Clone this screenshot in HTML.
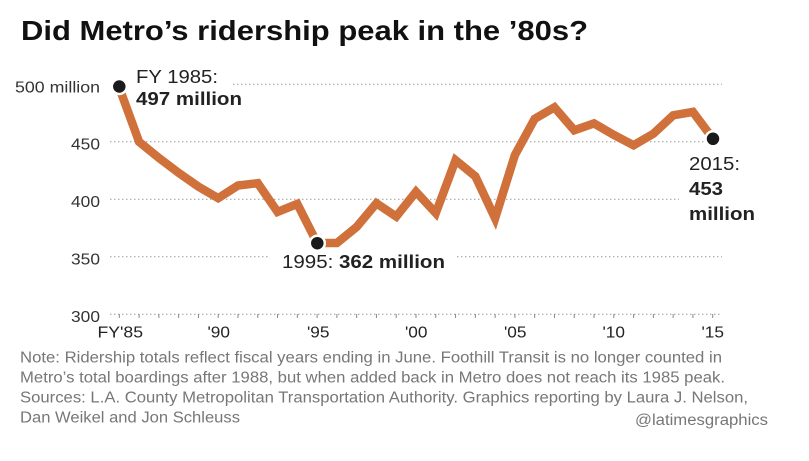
<!DOCTYPE html>
<html>
<head>
<meta charset="utf-8">
<style>
html,body{margin:0;padding:0;background:#fff;}
svg{display:block;}
text{font-family:"Liberation Sans",Arial,sans-serif;}
</style>
</head>
<body>
<svg width="809" height="461" viewBox="0 0 809 461" xmlns="http://www.w3.org/2000/svg">
<rect width="809" height="461" fill="#fff"/>
<!-- Title -->
<text x="21" y="40" font-size="27.5" font-weight="bold" fill="#111" textLength="567" lengthAdjust="spacingAndGlyphs">Did Metro’s ridership peak in the ’80s?</text>

<!-- Gridlines -->
<g stroke="#9a9a9a" stroke-width="1" stroke-dasharray="1.5 2.5" fill="none">
<line x1="233" y1="84.3" x2="722" y2="84.3"/>
<line x1="110" y1="141.8" x2="712" y2="141.8"/>
<line x1="110" y1="199.3" x2="679" y2="199.3"/>
<line x1="110" y1="256.8" x2="270" y2="256.8"/>
<line x1="457" y1="256.8" x2="722" y2="256.8"/>
<line x1="110" y1="314.3" x2="722" y2="314.3"/>
</g>
<!-- Ticks -->
<g stroke="#888" stroke-width="1">
<line x1="119.3" y1="314" x2="119.3" y2="318"/>
<line x1="139.08" y1="314" x2="139.08" y2="318"/>
<line x1="158.86" y1="314" x2="158.86" y2="318"/>
<line x1="178.64" y1="314" x2="178.64" y2="318"/>
<line x1="198.42" y1="314" x2="198.42" y2="318"/>
<line x1="218.2" y1="314" x2="218.2" y2="318"/>
<line x1="237.98" y1="314" x2="237.98" y2="318"/>
<line x1="257.76" y1="314" x2="257.76" y2="318"/>
<line x1="277.54" y1="314" x2="277.54" y2="318"/>
<line x1="297.32" y1="314" x2="297.32" y2="318"/>
<line x1="317.1" y1="314" x2="317.1" y2="318"/>
<line x1="336.88" y1="314" x2="336.88" y2="318"/>
<line x1="356.66" y1="314" x2="356.66" y2="318"/>
<line x1="376.44" y1="314" x2="376.44" y2="318"/>
<line x1="396.22" y1="314" x2="396.22" y2="318"/>
<line x1="416.0" y1="314" x2="416.0" y2="318"/>
<line x1="435.78" y1="314" x2="435.78" y2="318"/>
<line x1="455.56" y1="314" x2="455.56" y2="318"/>
<line x1="475.34" y1="314" x2="475.34" y2="318"/>
<line x1="495.12" y1="314" x2="495.12" y2="318"/>
<line x1="514.9" y1="314" x2="514.9" y2="318"/>
<line x1="534.68" y1="314" x2="534.68" y2="318"/>
<line x1="554.46" y1="314" x2="554.46" y2="318"/>
<line x1="574.24" y1="314" x2="574.24" y2="318"/>
<line x1="594.02" y1="314" x2="594.02" y2="318"/>
<line x1="613.8" y1="314" x2="613.8" y2="318"/>
<line x1="633.58" y1="314" x2="633.58" y2="318"/>
<line x1="653.36" y1="314" x2="653.36" y2="318"/>
<line x1="673.14" y1="314" x2="673.14" y2="318"/>
<line x1="692.92" y1="314" x2="692.92" y2="318"/>
<line x1="712.7" y1="314" x2="712.7" y2="318"/>
</g>

<!-- Y labels -->
<g font-size="16" fill="#333">
<text x="15" y="92.5" textLength="85" lengthAdjust="spacingAndGlyphs">500 million</text>
<text x="71" y="149.5" textLength="29" lengthAdjust="spacingAndGlyphs">450</text>
<text x="71" y="207" textLength="29" lengthAdjust="spacingAndGlyphs">400</text>
<text x="71" y="264.5" textLength="29" lengthAdjust="spacingAndGlyphs">350</text>
<text x="71" y="322" textLength="29" lengthAdjust="spacingAndGlyphs">300</text>
</g>
<!-- X labels -->
<g font-size="16" fill="#222">
<text x="97.5" y="337.5" textLength="45.5" lengthAdjust="spacingAndGlyphs">FY'85</text>
<text x="207.5" y="337.5" textLength="22.5" lengthAdjust="spacingAndGlyphs">'90</text>
<text x="307" y="337.5" textLength="22.5" lengthAdjust="spacingAndGlyphs">'95</text>
<text x="405" y="337.5" textLength="22.5" lengthAdjust="spacingAndGlyphs">'00</text>
<text x="504" y="337.5" textLength="22.5" lengthAdjust="spacingAndGlyphs">'05</text>
<text x="602.5" y="337.5" textLength="22.5" lengthAdjust="spacingAndGlyphs">'10</text>
<text x="701.5" y="337.5" textLength="22.5" lengthAdjust="spacingAndGlyphs">'15</text>
</g>

<!-- Series -->
<polyline fill="none" stroke="#D0713B" stroke-width="8.5" stroke-linejoin="miter" stroke-miterlimit="3" stroke-linecap="butt"
points="119.3,87.75 139.08,141.8 158.86,157.9 178.64,172.85 198.42,186.65 218.2,198.15 237.98,185.5 257.76,183.2 277.54,211.95 297.32,203.9 317.1,243.0 336.88,243.0 356.66,226.9 376.44,203.3 396.22,216.55 416.0,191.8 435.78,213.1 455.56,160.2 475.34,176.3 495.12,218.3 514.9,155.05 534.68,118.8 554.46,107.3 574.24,130.3 594.02,123.4 613.8,134.9 633.58,145.25 653.36,133.75 673.14,115.35 692.92,111.9 712.7,138.35"/>

<!-- Markers -->
<g fill="#1a1a1a" stroke="#fff" stroke-width="2.5">
<circle cx="119.3" cy="86.5" r="7.5"/>
<circle cx="317.3" cy="243.2" r="7.5"/>
<circle cx="713" cy="138.8" r="7.5"/>
</g>

<!-- Annotations -->
<g fill="#222" font-size="18">
<text x="136" y="83" textLength="82" lengthAdjust="spacingAndGlyphs">FY 1985:</text>
<text x="136" y="105" font-weight="bold" textLength="106" lengthAdjust="spacingAndGlyphs">497 million</text>
<text x="282" y="268" textLength="163" lengthAdjust="spacingAndGlyphs">1995: <tspan font-weight="bold">362 million</tspan></text>
<text x="689" y="170" textLength="51" lengthAdjust="spacingAndGlyphs">2015:</text>
<text x="689" y="195" font-weight="bold" textLength="34" lengthAdjust="spacingAndGlyphs">453</text>
<text x="689" y="220" font-weight="bold" textLength="66" lengthAdjust="spacingAndGlyphs">million</text>
</g>

<!-- Notes -->
<g fill="#777" font-size="15.3">
<text x="20" y="362.5" textLength="702" lengthAdjust="spacingAndGlyphs">Note: Ridership totals reflect fiscal years ending in June. Foothill Transit is no longer counted in</text>
<text x="20" y="382.5" textLength="705" lengthAdjust="spacingAndGlyphs">Metro’s total boardings after 1988, but when added back in Metro does not reach its 1985 peak.</text>
<text x="20" y="402.5" textLength="728" lengthAdjust="spacingAndGlyphs">Sources: L.A. County Metropolitan Transportation Authority. Graphics reporting by Laura J. Nelson,</text>
<text x="20" y="422.5" textLength="220" lengthAdjust="spacingAndGlyphs">Dan Weikel and Jon Schleuss</text>
<text x="635" y="425" textLength="133" lengthAdjust="spacingAndGlyphs">@latimesgraphics</text>
</g>
</svg>
</body>
</html>
